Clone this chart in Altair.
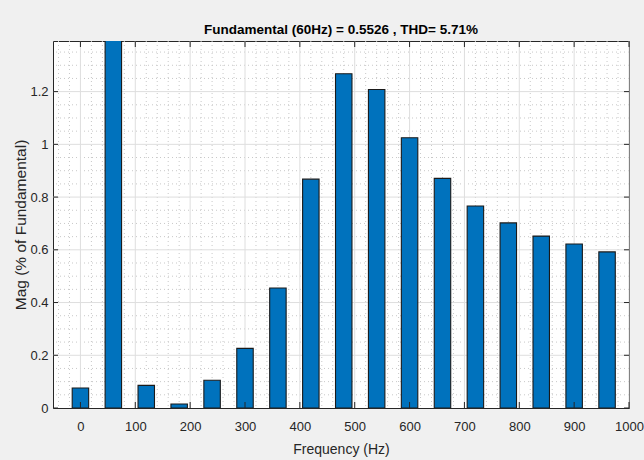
import altair as alt
import pandas as pd

# ---- data ----
freqs = [0, 60, 120, 180, 240, 300, 360, 420, 480, 540, 600, 660, 720, 780, 840, 900, 960]
mags = [0.076, 100.0, 0.086, 0.015, 0.105, 0.226, 0.455, 0.868, 1.268, 1.208,
        1.025, 0.871, 0.766, 0.702, 0.652, 0.622, 0.592]
x_ticks = [0, 100, 200, 300, 400, 500, 600, 700, 800, 900, 1000]
y_ticks = [0, 0.2, 0.4, 0.6, 0.8, 1.0, 1.2]
x_minor = [v for v in range(-40, 1000, 20) if v % 100 != 0]
y_minor = [round(0.05 * i, 2) for i in range(1, 28) if i % 4 != 0]
title_text = "Fundamental (60Hz) = 0.5526 , THD= 5.71%"
x_title = "Frequency (Hz)"
y_title = "Mag (% of Fundamental)"

W, H = 576, 367
FONT = "Liberation Sans Narrow, Arial Narrow, Liberation Sans, Arial"
TXT = "#262626"

xs = alt.Scale(domain=[-50, 1000], nice=False, zero=False)
ys = alt.Scale(domain=[0, 1.392], nice=False, zero=False)

xaxis = alt.Axis(values=x_ticks, grid=False, tickSize=0, domain=False, format="d",
                 labelFont=FONT, labelFontSize=13, labelColor=TXT,
                 labelPadding=12, titleFont=FONT, titleFontSize=14,
                 titleFontWeight="normal", titleColor=TXT, titlePadding=9,
                 labelFlush=False, labelOverlap=False, zindex=1)
yaxis = alt.Axis(values=y_ticks, grid=False, tickSize=0, domain=False,
                 format="~g", labelFont=FONT, labelFontSize=13,
                 labelColor=TXT, labelPadding=5,
                 titleFont="Liberation Sans, Arial", titleFontSize=15.5,
                 titleFontWeight="normal", titleColor=TXT, titlePadding=1,
                 labelFlush=False, labelOverlap=False, zindex=1)


def X(field):
    return alt.X(field, scale=xs, axis=xaxis, title=x_title)


def Y(field):
    return alt.Y(field, scale=ys, axis=yaxis, title=y_title)


bars_df = pd.DataFrame({"f": freqs, "m": mags})

minor_x = alt.Chart(pd.DataFrame({"v": x_minor})).mark_rule(
    color="#c8c8c8", strokeDash=[1, 3], strokeWidth=1
).encode(x=X("v:Q"))

minor_y = alt.Chart(pd.DataFrame({"v": y_minor})).mark_rule(
    color="#c8c8c8", strokeDash=[1, 3], strokeWidth=1
).encode(y=Y("v:Q"))

major_x = alt.Chart(pd.DataFrame({"v": x_ticks})).mark_rule(
    color="#dedede", strokeWidth=1
).encode(x=X("v:Q"))

major_y = alt.Chart(pd.DataFrame({"v": y_ticks[1:]})).mark_rule(
    color="#dedede", strokeWidth=1
).encode(y=Y("v:Q"))

bars = alt.Chart(bars_df).transform_calculate(
    x0="datum.f - 15", x1="datum.f + 15"
).mark_rect(color="#0072BD", stroke="#1a1a1a", strokeWidth=1.1, clip=True).encode(
    x=X("x0:Q"),
    x2="x1:Q",
    y=Y("m:Q"),
    y2=alt.datum(0),
)

tick_style = dict(color=TXT, strokeWidth=1)
xt = pd.DataFrame({"v": x_ticks})
yt = pd.DataFrame({"v": y_ticks})
ticks_bottom = alt.Chart(xt).mark_rule(**tick_style).encode(
    x=X("v:Q"), y=alt.value(H), y2=alt.value(H - 6))
ticks_top = alt.Chart(xt).mark_rule(**tick_style).encode(
    x=X("v:Q"), y=alt.value(0), y2=alt.value(6))
ticks_left = alt.Chart(yt).mark_rule(**tick_style).encode(
    y=Y("v:Q"), x=alt.value(0), x2=alt.value(5))
ticks_right = alt.Chart(yt).mark_rule(**tick_style).encode(
    y=Y("v:Q"), x=alt.value(W), x2=alt.value(W - 5))

chart = alt.layer(
    minor_x, minor_y, major_x, major_y, bars,
    ticks_bottom, ticks_top, ticks_left, ticks_right,
).properties(
    width=W, height=H,
    title=alt.TitleParams(title_text, font=FONT, fontSize=13.5, fontWeight="bold",
                          color="#000000", anchor="middle", frame="group", offset=4),
    autosize=alt.AutoSizeParams(type="none"),
    padding={"left": 53, "top": 41, "right": 15, "bottom": 52},
    background="#f0f0f0",
).configure_view(
    fill="white", stroke="#262626", strokeWidth=1
)

chart.save("out.html", embed_options={"renderer": "svg", "actions": False})
